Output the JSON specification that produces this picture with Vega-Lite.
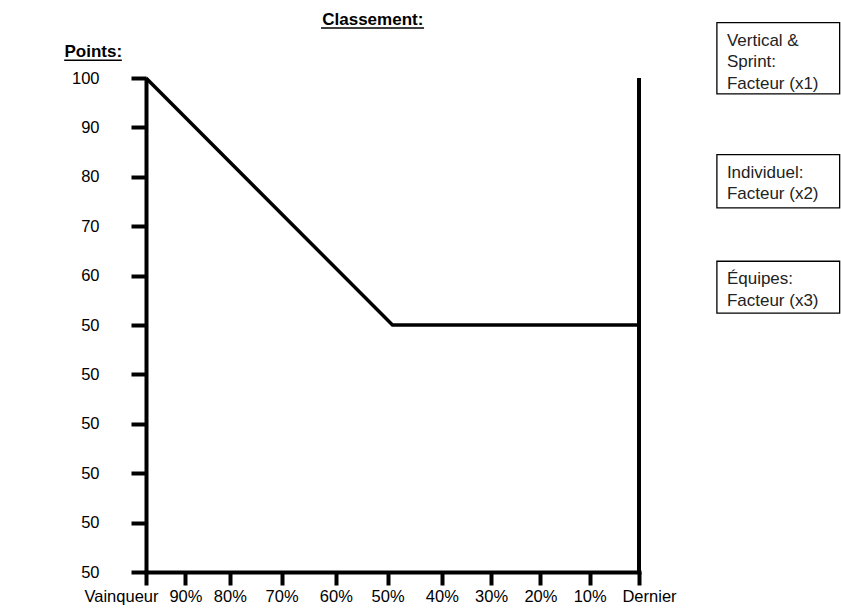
{
  "$schema": "https://vega.github.io/schema/vega-lite/v6.json",
  "width": 493,
  "height": 494,
  "autosize": {"type": "none"},
  "padding": {"left": 146, "top": 78, "right": 202, "bottom": 41},
  "background": "white",
  "config": {
    "view": {"stroke": null},
    "font": "Liberation Sans",
    "axis": {"labelColor": "black", "titleColor": "black", "domainColor": "black", "tickColor": "black", "grid": false}
  },
  "datasets": {
    "courbe": [
      {"rang": 0, "points": 100},
      {"rang": 50, "points": 50},
      {"rang": 100, "points": 50}
    ],
    "cadres": [
      {"x1": 115.8, "x2": 140.7, "y1": 111.2, "y2": 96.8, "texte": "Vertical &\nSprint:\nFacteur (x1)"},
      {"x1": 115.8, "x2": 140.7, "y1": 84.5, "y2": 73.7, "texte": "Individuel:\nFacteur (x2)"},
      {"x1": 115.8, "x2": 140.7, "y1": 62.9, "y2": 52.4, "texte": "Équipes:\nFacteur (x3)"}
    ],
    "soulignements": [
      {"x1": -16.6, "x2": -4.9, "y": 103.6},
      {"x1": 35.5, "x2": 56.4, "y": 110.1}
    ]
  },
  "layer": [
    {
      "data": {"name": "courbe"},
      "mark": {"type": "line", "color": "black", "strokeWidth": 3.5, "clip": false},
      "encoding": {
        "x": {
          "field": "rang",
          "type": "quantitative",
          "scale": {"domain": [0, 100], "nice": false, "zero": false},
          "axis": {
            "values": [0, 8, 17, 27.5, 38.5, 49, 60, 70, 80, 90, 100],
            "labelExpr": "datum.value == 0 ? 'Vainqueur' : datum.value == 100 ? 'Dernier' : datum.value == 8 ? '90%' : datum.value == 17 ? '80%' : datum.value == 27.5 ? '70%' : datum.value == 38.5 ? '60%' : datum.value == 49 ? '50%' : (100 - datum.value) + '%'",
            "labelOffset": {"expr": "datum.value == 0 ? -25 : datum.value == 100 ? 10 : 0"},
            "labelOverlap": false,
            "labelFlush": false,
            "labelFontSize": 16.5,
            "labelPadding": 3,
            "tickSize": 13,
            "tickWidth": 4,
            "domainWidth": 4,
            "domainCap": "square",
            "title": "Classement:",
            "titleFontSize": 17,
            "titleFontWeight": "bold",
            "titleX": 226.3,
            "titleY": -552.5,
            "titleAlign": "center",
            "titleBaseline": "middle",
            "titleAnchor": null
          }
        },
        "y": {
          "field": "points",
          "type": "quantitative",
          "scale": {"domain": [0, 100], "nice": false},
          "axis": {
            "values": [0, 10, 20, 30, 40, 50, 60, 70, 80, 90, 100],
            "labelExpr": "datum.value < 50 ? '50' : datum.label",
            "labelFontSize": 16.5,
            "labelPadding": 32,
            "labelOverlap": false,
            "labelFlush": false,
            "tickSize": 15,
            "tickWidth": 4,
            "domainWidth": 4,
            "title": "Points:",
            "titleAngle": 0,
            "titleFontSize": 17,
            "titleFontWeight": "bold",
            "titleX": -82,
            "titleY": -27,
            "titleAlign": "left",
            "titleBaseline": "middle"
          }
        }
      }
    },
    {
      "data": {"values": [{"rang": 100}]},
      "mark": {"type": "rule", "color": "black", "strokeWidth": 4},
      "encoding": {"x": {"field": "rang", "type": "quantitative"}}
    },
    {
      "data": {"name": "soulignements"},
      "mark": {"type": "rule", "color": "black", "strokeWidth": 1.5, "clip": false},
      "encoding": {
        "x": {"field": "x1", "type": "quantitative"},
        "x2": {"field": "x2"},
        "y": {"field": "y", "type": "quantitative"}
      }
    },
    {
      "data": {"name": "cadres"},
      "mark": {"type": "rect", "fill": "white", "stroke": "black", "strokeWidth": 1.3, "clip": false},
      "encoding": {
        "x": {"field": "x1", "type": "quantitative"},
        "x2": {"field": "x2"},
        "y": {"field": "y1", "type": "quantitative"},
        "y2": {"field": "y2"}
      }
    },
    {
      "data": {"name": "cadres"},
      "mark": {"type": "text", "align": "left", "baseline": "top", "dx": 10, "dy": 10, "lineBreak": "\n", "fontSize": 17, "lineHeight": 21.5, "color": "#222222", "clip": false},
      "encoding": {
        "x": {"field": "x1", "type": "quantitative"},
        "y": {"field": "y1", "type": "quantitative"},
        "text": {"field": "texte"}
      }
    }
  ]
}
